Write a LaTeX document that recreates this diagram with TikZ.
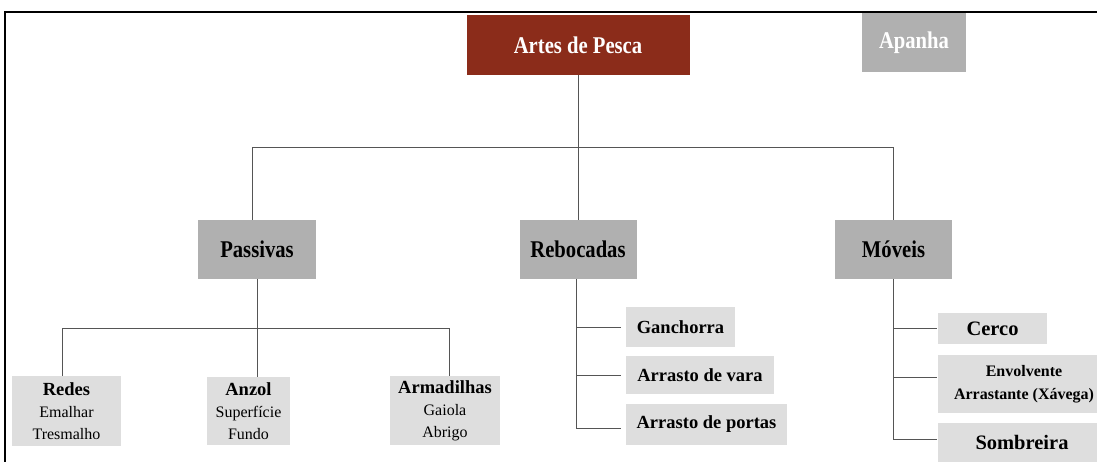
\documentclass[tikz,border=0pt]{standalone}
\usepackage{fontspec}
\setmainfont{Liberation Serif}
\newfontfamily\condfont[FakeStretch=0.86]{Liberation Serif}
\definecolor{darkred}{HTML}{8B2C1A}
\definecolor{midgray}{HTML}{B0B0B0}
\definecolor{lightgray}{HTML}{DEDEDE}
\definecolor{linegray}{HTML}{555555}
\tikzset{
  box/.style={inner sep=0pt, align=center},
  topbox/.style={box, fill=darkred, text=white, font=\condfont\bfseries\fontsize{24}{28}\selectfont},
  apbox/.style={box, fill=midgray, text=white, font=\condfont\bfseries\fontsize{24}{28}\selectfont},
  midbox/.style={box, fill=midgray, text=black, font=\condfont\bfseries\fontsize{24}{28}\selectfont},
  leafbox/.style={box, fill=lightgray, text=black, font=\fontsize{16}{22}\selectfont},
  subbox/.style={box, fill=lightgray, text=black, font=\bfseries\fontsize{18.5}{24}\selectfont},
  movbox/.style={box, fill=lightgray, text=black, font=\bfseries\fontsize{20.5}{24}\selectfont},
  conn/.style={draw=linegray, line width=1pt},
  frameline/.style={draw=black, line width=2pt}
}
\newcommand{\hd}[1]{{\bfseries\fontsize{18.5}{22}\selectfont #1}}
\begin{document}
\begin{tikzpicture}[x=1pt, y=-1pt]
\useasboundingbox (0,0) rectangle (1097,462);
\fill[white] (0,0) rectangle (1097,462);
% frame
\draw[frameline] (5,463) -- (5,12) -- (1098,12);

% nodes
\node[topbox, minimum width=223pt, minimum height=60pt] (art) at (578,45) {Artes de Pesca};
\node[apbox, minimum width=104pt, minimum height=59pt] (apa) at (914,43) {Apanha};

\node[midbox, minimum width=118pt, minimum height=59pt] (pas) at (257,249.5) {Passivas};
\node[midbox, minimum width=117pt, minimum height=59pt] (reb) at (578,249.5) {Rebocadas};
\node[midbox, minimum width=117pt, minimum height=59pt] (mov) at (893.5,249.5) {Móveis};

\node[leafbox, minimum width=109pt, minimum height=70pt] (red) at (66.5,411) {\hd{Redes}\\Emalhar\\Tresmalho};
\node[leafbox, minimum width=83pt, minimum height=68pt] (anz) at (248.5,411) {\hd{Anzol}\\Superfície\\Fundo};
\node[leafbox, minimum width=110pt, minimum height=69pt] (arm) at (445,410.5) {\hd{Armadilhas}\\Gaiola\\Abrigo};

\node[subbox, minimum width=109pt, minimum height=40pt] (gan) at (680.5,327) {Ganchorra};
\node[subbox, minimum width=148pt, minimum height=38pt] (var) at (700,375) {Arrasto de vara};
\node[subbox, minimum width=161pt, minimum height=41pt] (por) at (706.5,424.5) {Arrasto de portas};

\node[movbox, minimum width=109pt, minimum height=31pt] (cer) at (992.5,328.5) {Cerco};
\node[movbox, minimum width=172pt, minimum height=58pt, font=\bfseries\fontsize{16}{23}\selectfont] (env) at (1024,384) {Envolvente\\Arrastante (Xávega)};
\node[movbox, minimum width=168pt, minimum height=39pt] (som) at (1022,442.5) {Sombreira};

% bus coordinates
\coordinate (bus) at (0,148);
\coordinate (busp) at (0,328);

% level 1 connectors
\draw[conn] (art.south) -- (reb.north);
\draw[conn] ([xshift=-5pt]pas.north) -- ([xshift=-5pt]pas.north |- bus) -- (mov.north |- bus) -- (mov.north);

% Passivas
\draw[conn] (pas.south) -- (pas.south |- anz.north);
\draw[conn] ([xshift=-4.5pt]red.north) -- ([xshift=-4.5pt]red.north |- busp) -- ([xshift=4pt]arm.north |- busp) -- ([xshift=4pt]arm.north);

% Rebocadas
\draw[conn] ([xshift=-2pt]reb.south) -- ([xshift=-2pt,yshift=-3.5pt]reb.south |- por.west) -- ([xshift=-5pt,yshift=-3.5pt]por.west);
\draw[conn] ([xshift=-2pt]reb.south |- gan.west) -- ([xshift=-5pt]gan.west);
\draw[conn] ([xshift=-2pt]reb.south |- var.west) -- ([xshift=-5pt]var.west);

% Moveis
\draw[conn] (mov.south) -- ([yshift=3.5pt]mov.south |- som.west) -- ([xshift=-1pt,yshift=3.5pt]som.west);
\draw[conn] (mov.south |- cer.west) -- ([xshift=-1pt]cer.west);
\draw[conn] ([yshift=7pt]mov.south |- env.west) -- ([xshift=-1pt,yshift=7pt]env.west);
\end{tikzpicture}
\end{document}
